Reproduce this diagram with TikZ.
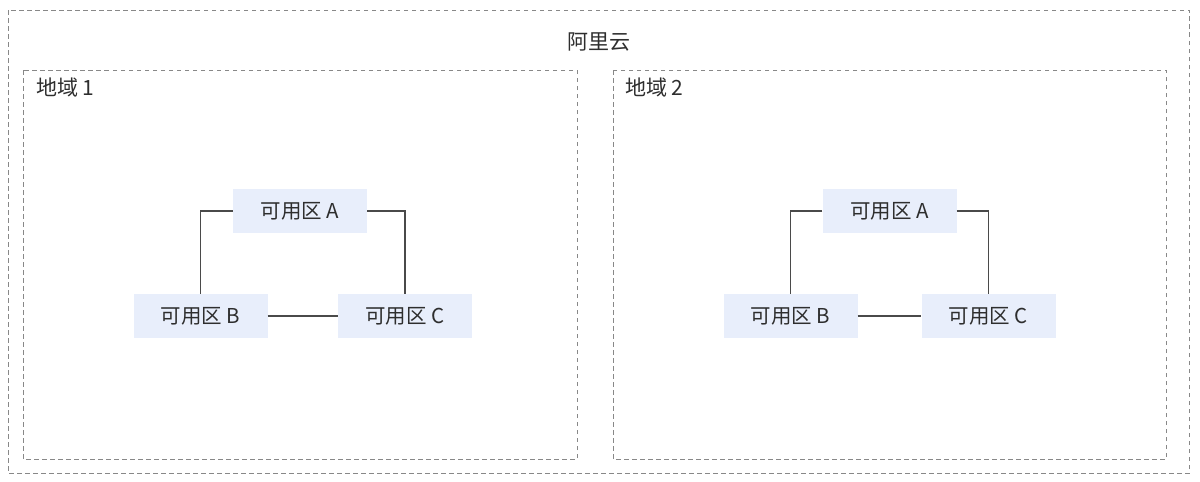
\documentclass[tikz,border=0pt]{standalone}
\usepackage{fontspec}
\setmainfont{Noto Sans CJK SC}
\definecolor{zonefill}{HTML}{E8EEFB}
\definecolor{txt}{HTML}{2E2E2E}
\definecolor{dashc}{HTML}{888888}
\definecolor{linec}{HTML}{4A4A4A}
\tikzset{
  zone/.style={fill=zonefill, draw=none, minimum width=134pt, minimum height=44pt, inner sep=0pt, text=txt, font=\fontsize{20.5}{22}\selectfont},
  area/.style={draw=dashc, line width=1pt, dash pattern=on 4.5pt off 3.5pt},
  link/.style={draw=linec, line width=1.2pt},
  lbl/.style={text=txt, font=\fontsize{21}{24}\selectfont, inner sep=0pt}
}
\begin{document}
\begin{tikzpicture}[x=1pt,y=-1pt]
\useasboundingbox (0,0) rectangle (1200,482);
\draw[area] (8,10) rectangle (1189,473);
\draw[area] (23,70) rectangle (577,459);
\draw[area] (613,70) rectangle (1166,459);
\node[lbl] (title) at (599,42) {阿里云};
\node[lbl, anchor=west] (r1) at (36,88) {地域 1};
\node[lbl, anchor=west] (r2) at (625,88) {地域 2};
% region 1
\node[zone] (a1) at (300,211) {可用区 A};
\node[zone] (b1) at (200.5,316) {可用区 B};
\node[zone] (c1) at (405,316) {可用区 C};
\draw[link] (a1.west) -| (b1.north);
\draw[link] (a1.east) -| (c1.north);
\draw[link] (b1.east) -- (c1.west);
% region 2
\node[zone] (a2) at (889.5,211) {可用区 A};
\node[zone] (b2) at (790.5,316) {可用区 B};
\node[zone] (c2) at (988.5,316) {可用区 C};
\draw[link] (a2.west) -| (b2.north);
\draw[link] (a2.east) -| (c2.north);
\draw[link] (b2.east) -- (c2.west);
\end{tikzpicture}
\end{document}
